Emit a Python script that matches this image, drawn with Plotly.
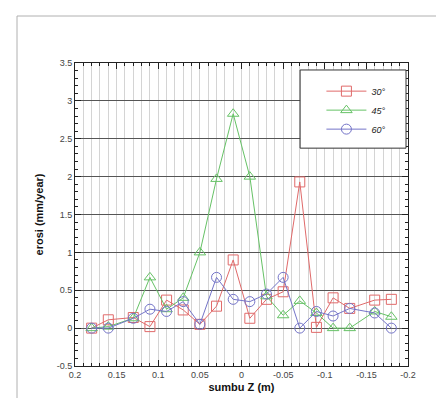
import plotly.graph_objects as go

z = [0.18, 0.16, 0.13, 0.11, 0.09, 0.07, 0.05, 0.03, 0.01, -0.01, -0.03, -0.05, -0.07, -0.09, -0.11, -0.13, -0.16, -0.18]
erosi_30 = [0.0, 0.11, 0.14, 0.02, 0.37, 0.24, 0.05, 0.29, 0.90, 0.13, 0.38, 0.48, 1.93, 0.01, 0.40, 0.26, 0.37, 0.38]
erosi_45 = [0.0, 0.02, 0.13, 0.67, 0.25, 0.40, 1.00, 1.97, 2.83, 2.00, 0.42, 0.17, 0.36, 0.20, 0.0, 0.0, 0.22, 0.15]
erosi_60 = [0.0, 0.0, 0.13, 0.25, 0.22, 0.35, 0.05, 0.67, 0.38, 0.35, 0.45, 0.67, 0.0, 0.22, 0.16, 0.26, 0.20, 0.0]

x_ticks = [0.2, 0.15, 0.1, 0.05, 0, -0.05, -0.1, -0.15, -0.2]
x_labels = ["0.2", "0.15", "0.1", "0.05", "0", "-0.05", "-0.1", "-0.15", "-0.2"]
y_ticks = [3.5, 3, 2.5, 2, 1.5, 1, 0.5, 0, -0.5]
y_labels = ["3.5", "3", "2.5", "2", "1.5", "1", "0.5", "0", "-0.5"]

series = [
    ("<i>30°</i>", erosi_30, "#e06a6a", "square-open"),
    ("<i>45°</i>", erosi_45, "#66c266", "triangle-up-open"),
    ("<i>60°</i>", erosi_60, "#7474c8", "circle-open"),
]

fig = go.Figure()
for name, vals, col, sym in series:
    fig.add_trace(go.Scatter(
        x=z, y=vals, name=name, mode="lines+markers",
        line=dict(color=col, width=1),
        marker=dict(symbol=sym, size=10, color=col, line=dict(color=col, width=1)),
    ))

fig.update_layout(
    width=444, height=398,
    margin=dict(l=67, r=44, t=55, b=40),
    paper_bgcolor="white", plot_bgcolor="white",
    font=dict(family="Liberation Sans, Arial, sans-serif", size=9, color="#444"),
    showlegend=True,
    legend=dict(x=0.74, y=0.955, xanchor="left", yanchor="top",
                bgcolor="rgba(0,0,0,0)", borderwidth=0,
                font=dict(size=9, color="#222"), itemwidth=40, tracegroupgap=0),
)

fig.update_xaxes(
    range=[0.2, -0.2], tickvals=x_ticks, ticktext=x_labels,
    showline=True, linecolor="#222", linewidth=1, mirror="ticks",
    ticks="inside", ticklen=6, tickcolor="#222",
    showgrid=True, gridcolor="#d4d4d4", gridwidth=1, zeroline=False,
    minor=dict(dtick=0.01, tick0=0, showgrid=True, gridcolor="#d4d4d4", ticks="inside", ticklen=3, tickcolor="#222"),
    title=dict(text="<b>sumbu Z (m)</b>", font=dict(size=11, color="#111"), standoff=4),
)
fig.update_yaxes(
    range=[-0.5, 3.5], tickvals=y_ticks, ticktext=y_labels,
    showline=True, linecolor="#222", linewidth=1, mirror="ticks",
    ticks="inside", ticklen=6, tickcolor="#222",
    showgrid=True, gridcolor="#555", gridwidth=1, zeroline=False,
    minor=dict(dtick=0.1, tick0=0, showgrid=False, ticks="inside", ticklen=3, tickcolor="#222"),
    title=dict(text="<b>erosi (mm/year)</b>", font=dict(size=11, color="#111"), standoff=10),
)

# legend box
fig.add_shape(type="rect", xref="paper", yref="paper",
              x0=0.676, x1=0.994, y0=0.719, y1=0.977,
              line=dict(color="#333", width=1), fillcolor="white", layer="above")
# outer frame (left and top edges)
fig.add_shape(type="line", xref="paper", yref="paper",
              x0=(9 - 67) / 333, x1=(9 - 67) / 333, y0=(358 - 398) / 303, y1=(358 - 8) / 303,
              line=dict(color="#b0b0b0", width=1))
fig.add_shape(type="line", xref="paper", yref="paper",
              x0=(9 - 67) / 333, x1=(444 - 67) / 333, y0=(358 - 8) / 303, y1=(358 - 8) / 303,
              line=dict(color="#b0b0b0", width=1))

fig.write_html("out.html")
